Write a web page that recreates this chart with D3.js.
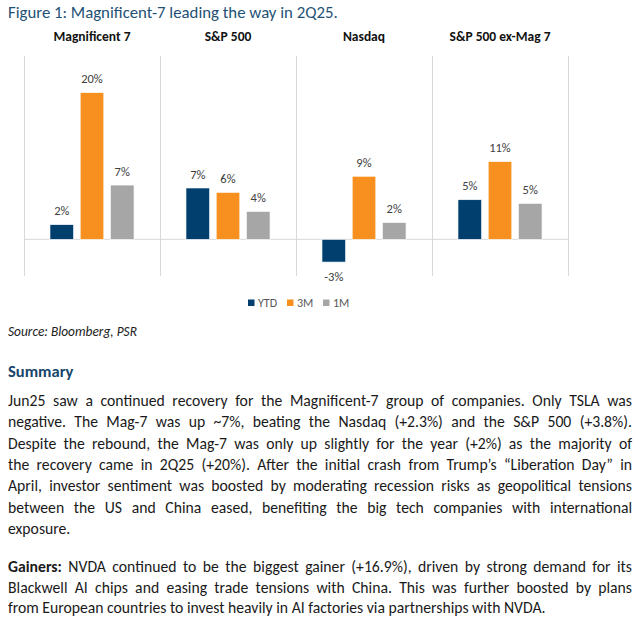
<!DOCTYPE html>
<html>
<head>
<meta charset="utf-8">
<script src="https://cdn.jsdelivr.net/npm/d3@7"></script>
<style>
  html, body { margin: 0; padding: 0; background: #fff; }
  svg { display: block; font-family: Carlito, Calibri, Lato, sans-serif; }
</style>
</head>
<body>
<div id="chart"></div>
<script>
// chart data
const categories = ["Magnificent 7", "S&P 500", "Nasdaq", "S&P 500 ex-Mag 7"];
const seriesNames = ["YTD", "3M", "1M"];
const ytd = [2.0, 7.0, -3.1, 5.4];
const threeM = [20.0, 6.4, 8.6, 10.6];
const oneM = [7.4, 3.8, 2.3, 4.9];
const seriesColors = ["#003f6e", "#f7901e", "#a6a6a6"];

// page text
const title = "Figure 1: Magnificent-7 leading the way in 2Q25.";
const source = "Source: Bloomberg, PSR";
const summaryHead = "Summary";
const summaryLines = [
  "Jun25 saw a continued recovery for the Magnificent-7 group of companies. Only TSLA was",
  "negative. The Mag-7 was up ~7%, beating the Nasdaq (+2.3%) and the S&P 500 (+3.8%).",
  "Despite the rebound, the Mag-7 was only up slightly for the year (+2%) as the majority of",
  "the recovery came in 2Q25 (+20%). After the initial crash from Trump\u2019s \u201cLiberation Day\u201d in",
  "April, investor sentiment was boosted by moderating recession risks as geopolitical tensions",
  "between the US and China eased, benefiting the big tech companies with international",
  "exposure."
];
const gainersLines = [
  "NVDA continued to be the biggest gainer (+16.9%), driven by strong demand for its",
  "Blackwell AI chips and easing trade tensions with China. This was further boosted by plans",
  "from European countries to invest heavily in AI factories via partnerships with NVDA."
];

const width = 638, height = 632;
const svg = d3.select("#chart").append("svg")
  .attr("width", width)
  .attr("height", height);

// Title
svg.append("text")
  .attr("x", 8).attr("y", 17.5)
  .attr("fill", "#1f5276")
  .style("font-size", "16.8px")
  .text(title);

// Scales
const x0 = d3.scaleBand().domain(categories).range([24, 568]).padding(0);
const x1 = d3.scaleBand().domain(seriesNames).range([0, x0.bandwidth()])
  .paddingInner(0.22).paddingOuter(0.86);
const y = d3.scaleLinear().domain([-5, 25]).range([276, 56]);

const data = categories.map((c, i) => ({
  cat: c,
  values: [ytd[i], threeM[i], oneM[i]].map((v, j) => ({ key: seriesNames[j], value: v, color: seriesColors[j] }))
}));

// Panel separators
const seps = x0.domain().map(d => x0(d)).concat([x0.range()[1]]);
svg.append("g").selectAll("line")
  .data(seps).enter().append("line")
  .attr("x1", d => d + 0.5).attr("x2", d => d + 0.5)
  .attr("y1", y(25)).attr("y2", y(-5))
  .attr("stroke", "#d9d9d9").attr("stroke-width", 1);

// Zero line
svg.append("line")
  .attr("x1", 24).attr("x2", 568)
  .attr("y1", y(0)).attr("y2", y(0))
  .attr("stroke", "#d9d9d9").attr("stroke-width", 1);

// Panel headers
svg.append("g").selectAll("text")
  .data(categories).enter().append("text")
  .attr("x", d => x0(d) + x0.bandwidth() / 2)
  .attr("y", 40.7)
  .attr("text-anchor", "middle")
  .attr("fill", "#111")
  .style("font-size", "13.5px")
  .style("font-weight", "bold")
  .text(d => d);

// Bars
const groups = svg.append("g").selectAll("g")
  .data(data).enter().append("g")
  .attr("transform", d => "translate(" + x0(d.cat) + ",0)");

groups.selectAll("rect")
  .data(d => d.values).enter().append("rect")
  .attr("x", d => x1(d.key))
  .attr("width", x1.bandwidth())
  .attr("y", d => y(Math.max(0, d.value)))
  .attr("height", d => Math.abs(y(d.value) - y(0)))
  .attr("fill", d => d.color)
  .attr("stroke", "#fff")
  .attr("stroke-width", 0.6);

groups.selectAll("text")
  .data(d => d.values).enter().append("text")
  .attr("x", d => x1(d.key) + x1.bandwidth() / 2)
  .attr("y", d => d.value >= 0 ? y(d.value) - 9.4 : y(d.value) + 18.7)
  .attr("text-anchor", "middle")
  .attr("fill", "#404040")
  .style("font-size", "12.5px")
  .text(d => Math.round(d.value) + "%");

// Legend
const legendX = [248, 287, 323];
const legend = svg.append("g").selectAll("g")
  .data(seriesNames).enter().append("g")
  .attr("transform", (d, i) => "translate(" + legendX[i] + ",299.5)");
legend.append("rect")
  .attr("width", 6.5).attr("height", 6.5)
  .attr("fill", (d, i) => seriesColors[i]);
legend.append("text")
  .attr("x", 10).attr("y", 7.5)
  .attr("fill", "#595959")
  .style("font-size", "12px")
  .text(d => d);

// Source
svg.append("text")
  .attr("x", 8).attr("y", 336)
  .attr("fill", "#222")
  .style("font-size", "13.4px")
  .style("font-style", "italic")
  .text(source);

// Summary heading
svg.append("text")
  .attr("x", 8).attr("y", 376.5)
  .attr("fill", "#17456b")
  .style("font-size", "16.5px")
  .style("font-weight", "bold")
  .text(summaryHead);

// justified body line
const textLeft = 8, textWidth = 624;
function bodyLine(yPos, parts, justify) {
  const t = svg.append("text")
    .attr("x", textLeft).attr("y", yPos)
    .attr("fill", "#1a1a1a")
    .style("font-size", "15.7px")
    .style("white-space", "pre");
  parts.forEach(p => {
    t.append("tspan")
      .style("font-weight", p.bold ? "bold" : "normal")
      .text(p.t);
  });
  const len = t.node().getComputedTextLength();
  if (len > textWidth) {
    t.attr("textLength", textWidth).attr("lengthAdjust", "spacingAndGlyphs");
  } else if (justify) {
    const full = parts.map(p => p.t).join("");
    const spaces = (full.match(/ /g) || []).length;
    if (spaces > 0) t.style("word-spacing", ((textWidth - len) / spaces) + "px");
  }
  return t;
}

summaryLines.forEach((line, i) => {
  bodyLine(406 + i * 21.3, [{ t: line }], i < summaryLines.length - 1);
});

gainersLines.forEach((line, i) => {
  const parts = i === 0 ? [{ t: "Gainers:", bold: true }, { t: " " + line }] : [{ t: line }];
  bodyLine(571.7 + i * 20.8, parts, i < gainersLines.length - 1);
});
</script>
</body>
</html>
